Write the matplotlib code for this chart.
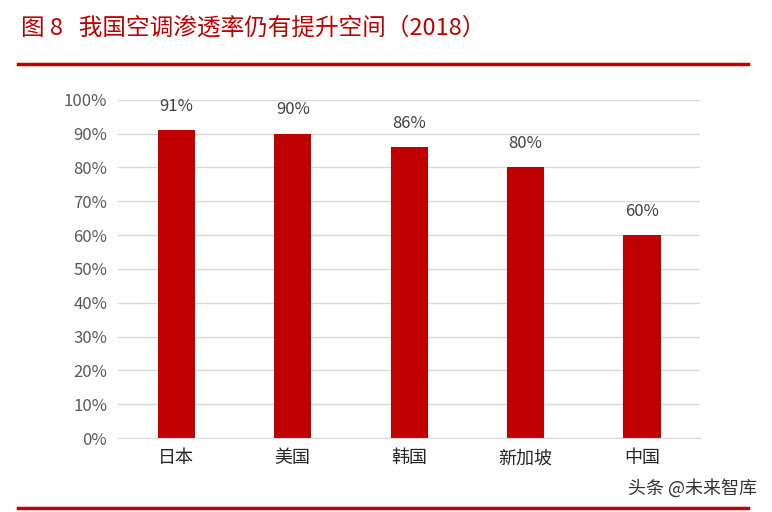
import matplotlib.pyplot as plt
from matplotlib.lines import Line2D

plt.rcParams['font.family'] = ['Noto Sans CJK SC', 'DejaVu Sans']

countries = ['日本', '美国', '韩国', '新加坡', '中国']
rates = [0.91, 0.90, 0.86, 0.80, 0.60]

red = '#C00000'

fig = plt.figure(figsize=(7.72, 5.12), dpi=100)
ax = fig.add_axes([0.153, 0.1445, 0.754, 0.6605])

x = range(len(countries))
ax.bar(x, rates, width=0.32, color=red, zorder=2)
for i, v in zip(x, rates):
    ax.text(i, v + 0.045, f'{v*100:.0f}%', ha='center', va='bottom',
            fontsize=12, color='#404040')

ax.set_xlim(-0.5, len(countries) - 0.5)
ax.set_ylim(0, 1.0)
ax.set_yticks([i / 10 for i in range(11)])
ax.set_yticklabels([f'{i*10}%' for i in range(11)], fontsize=12, color='#595959')
ax.set_xticks(list(x))
ax.set_xticklabels(countries, fontsize=13, color='#262626')
ax.grid(axis='y', color='#D9D9D9', linewidth=1, zorder=0)
ax.tick_params(length=0, pad=8)
for s in ['top', 'right', 'left']:
    ax.spines[s].set_visible(False)
ax.spines['bottom'].set_color('#D9D9D9')

fig.text(0.027, 0.945, '图 8   我国空调渗透率仍有提升空间（2018）',
         fontsize=17, color=red, va='center')
fig.add_artist(Line2D([0.023, 0.969], [0.875, 0.875], color=red, lw=2.5,
                      transform=fig.transFigure))
fig.add_artist(Line2D([0.023, 0.969], [0.008, 0.008], color=red, lw=2.5,
                      transform=fig.transFigure))
fig.text(0.98, 0.047, '头条 @未来智库', fontsize=13, color='#333333',
         ha='right', va='center')

fig.savefig('out.png', dpi=100)
